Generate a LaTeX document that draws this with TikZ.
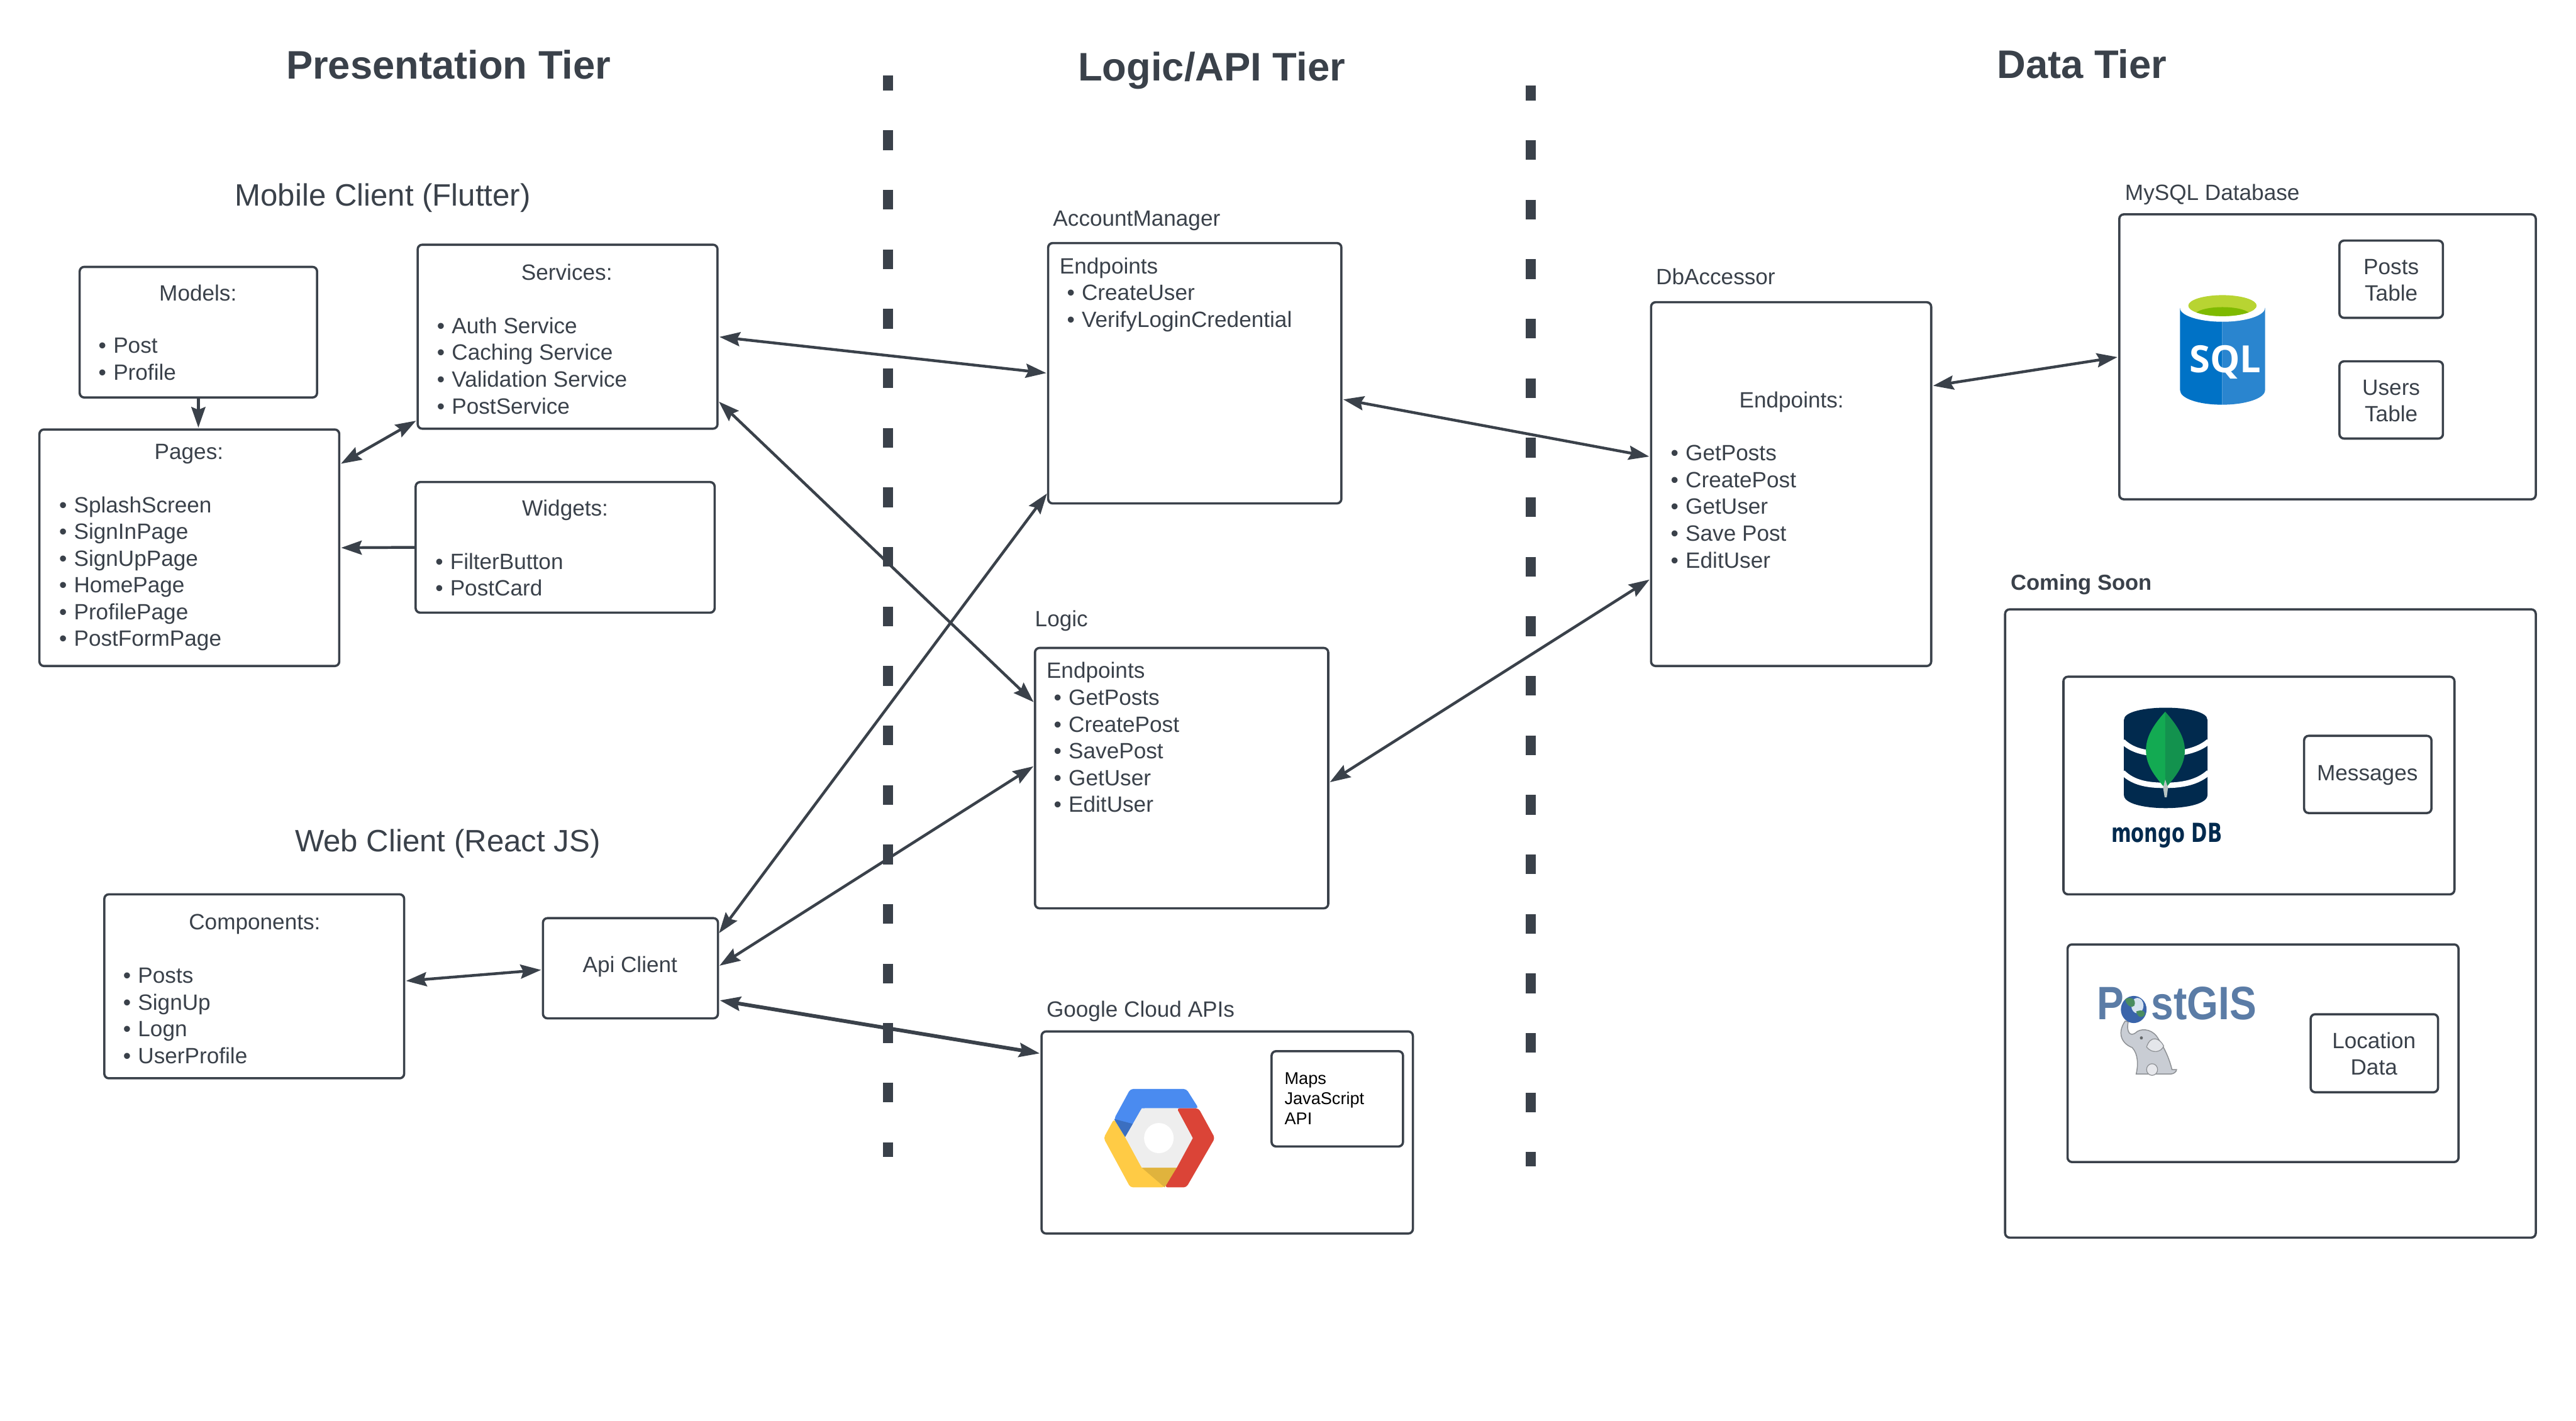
\documentclass[tikz,border=0pt]{standalone}
\usepackage{fontspec}
\setmainfont{Liberation Sans}
\usetikzlibrary{arrows.meta}
\definecolor{ink}{HTML}{3A414A}
\newcommand{\bl}{\strut\makebox[7.9pt][l]{•}}
\tikzset{
  wh/.style 2 args={minimum width=#1*0.030804cm, minimum height=#2*0.030804cm},
  box/.style={draw=ink, line width=1.2pt, rounded corners=2.4pt, inner sep=0pt, outer sep=0pt, fill=white},
  txt/.style={inner sep=0pt, outer sep=0pt, yshift=-1.6pt, text=ink, font=\fontsize{11.8}{14.28}\selectfont, align=left},
  ctxt/.style={txt, align=center},
  title/.style={inner sep=0pt, text=ink, font=\fontsize{21.25}{25}\selectfont\bfseries},
  subtitle/.style={inner sep=0pt, yshift=-1.6pt, text=ink, font=\fontsize{16.5}{20}\selectfont},
  link/.style={draw=ink, line width=1.5pt, {Stealth[length=11pt,width=7.5pt,inset=1.5pt]}-{Stealth[length=11pt,width=7.5pt,inset=1.5pt]}, shorten <=1pt, shorten >=1pt},
  onelink/.style={draw=ink, line width=1.5pt, -{Stealth[length=11pt,width=7.5pt,inset=1.5pt]}, shorten >=1pt},
  tierline/.style={draw=ink, line width=5.35pt, dash pattern=on 10.5pt off 21.27pt, dash phase=2.63pt},
  logo/.style={inner sep=0pt, outer sep=0pt}
}
\begin{document}
\begin{tikzpicture}[x=0.030804cm,y=-0.030804cm]
\useasboundingbox (0,0) rectangle (1568,864.8);
% tier separators
\coordinate (d1a) at (540.35,46.1);
\coordinate (d1b) at (540.35,704.2);
\coordinate (d2a) at (931.7,52.1);
\coordinate (d2b) at (931.7,710.2);
\draw[tierline] (d1a) -- (d1b);
\draw[tierline] (d2a) -- (d2b);
% titles
\node[title] (t1) at (273,39.5) {Presentation Tier};
\node[title] (t2) at (737.5,43) {Logic/API Tier};
\node[title] (t3) at (1267.3,39) {Data Tier};
\node[subtitle] (s1) at (233,118.5) {Mobile Client (Flutter)};
\node[subtitle] (s2) at (272.5,512) {Web Client (React JS)};
% boxes
\node[box,wh={144.5}{79.5}] (models) at (120.75,202.25) {};
\node[box,wh={182.5}{112}] (services) at (345.5,205) {};
\node[box,wh={182.5}{144}] (pages) at (115.25,333.5) {};
\node[box,wh={182}{79.5}] (widgets) at (344,333.25) {};
\node[box,wh={182.5}{112}] (components) at (154.75,600.5) {};
\node[box,wh={106.5}{61}] (api) at (383.75,589.5) {};
\node[box,wh={178.5}{158.5}] (account) at (727.25,227.25) {};
\node[box,wh={178.5}{158.5}] (logic) at (719.25,473.75) {};
\node[box,wh={226}{123}] (google) at (747,689.5) {};
\node[box,wh={80}{58}] (maps) at (814,669) {};
\node[box,wh={170.5}{221.5}] (db) at (1090.25,294.75) {};
\node[box,wh={253.5}{173.5}] (mysql) at (1416.75,217.25) {};
\node[box,wh={63}{47}] (posts) at (1455.5,170) {};
\node[box,wh={63}{47}] (users) at (1455.5,243.5) {};
\node[box,wh={323}{382.5}] (soon) at (1382,562.25) {};
\node[box,wh={238}{132.5}] (mongo) at (1375,478.25) {};
\node[box,wh={77.5}{47}] (messages) at (1441.25,471.5) {};
\node[box,wh={238}{132.5}] (gis) at (1377.5,641.25) {};
\node[box,wh={77.5}{47.5}] (location) at (1445.25,641.25) {};
% box texts
\node[ctxt] (modelsH) at (120.5,178) {\strut Models:};
\node[txt,anchor=north west] (modelsL) at (60,201.8) {\bl Post\\\bl Profile};
\node[ctxt] (servH) at (345,165.5) {\strut Services:};
\node[txt,anchor=north west] (servL) at (266,189.8) {\bl Auth Service\\\bl Caching Service\\\bl Validation Service\\\bl PostService};
\node[ctxt] (pagesH) at (115,274.5) {\strut Pages:};
\node[txt,anchor=north west] (pagesL) at (36,298.8) {\bl SplashScreen\\\bl SignInPage\\\bl SignUpPage\\\bl HomePage\\\bl ProfilePage\\\bl PostFormPage};
\node[ctxt] (widH) at (344,309) {\strut Widgets:};
\node[txt,anchor=north west] (widL) at (265,333.3) {\bl FilterButton\\\bl PostCard};
\node[ctxt] (compH) at (155,561) {\strut Components:};
\node[txt,anchor=north west] (compL) at (75,585.3) {\bl Posts\\\bl SignUp\\\bl Logn\\\bl UserProfile};
\node[ctxt] (apiT) at (383.5,587) {\strut Api Client};
\node[txt,anchor=north west] (accL) at (645,153.3) {\strut Endpoints\\\hspace*{3.9pt}\bl CreateUser\\\hspace*{3.9pt}\bl VerifyLoginCredential};
\node[txt,anchor=north west] (logL) at (637,399.8) {\strut Endpoints\\\hspace*{3.9pt}\bl GetPosts\\\hspace*{3.9pt}\bl CreatePost\\\hspace*{3.9pt}\bl SavePost\\\hspace*{3.9pt}\bl GetUser\\\hspace*{3.9pt}\bl EditUser};
\node[ctxt] (dbH) at (1090.5,243) {\strut Endpoints:};
\node[txt,anchor=north west] (dbL) at (1017,267.3) {\bl GetPosts\\\bl CreatePost\\\bl GetUser\\\bl Save Post\\\bl EditUser};
\node[ctxt] (postsT) at (1455.5,170) {\strut Posts\\\strut Table};
\node[ctxt] (usersT) at (1455.5,243.5) {\strut Users\\\strut Table};
\node[ctxt] (msgT) at (1441,470) {\strut Messages};
\node[ctxt] (locT) at (1445,641.25) {\strut Location\\\strut Data};
\node[inner sep=0pt, yshift=-1.4pt, align=left, anchor=north west, text=black, font=\fontsize{9.1}{10.6}\selectfont] (mapsT) at (781.7,650) {\strut Maps\\\strut JavaScript\\\strut API};
% labels
\node[txt,anchor=west] (l1) at (641,132.5) {\strut AccountManager};
\node[txt,anchor=west] (l2) at (630,376.5) {\strut Logic};
\node[txt,anchor=west] (l3) at (637,614) {\strut Google Cloud APIs};
\node[txt,anchor=west] (l4) at (1008,168) {\strut DbAccessor};
\node[txt,anchor=west] (l5) at (1293.5,117) {\strut MySQL Database};
\node[txt,anchor=west,font=\fontsize{11.6}{14.3}\selectfont\bfseries] (l6) at (1224,354) {\strut Coming Soon};
% connectors
\draw[onelink] (models.south) -- (models.south |- pages.north);
\draw[link] (pages.29.4) -- (services.209.6);
\draw[onelink] (widgets.west) -- (pages.east);
\draw[link] (services.east) -- (account.west);
\draw[link] (services.-23.1) -- (logic.153.4);
\draw[link] (account.-10.6) -- (db.169.5);
\draw[link] (logic.-2.1) -- (db.214.8);
\draw[link] (db.35.5) -- (mysql.west);
\draw[link] (api.21.05) -- (account.219.95);
\draw[link] (api.1.6) -- (logic.175.7);
\draw[link,line width=2pt] (api.-20.1) -- (google.157.2);
\draw[link] (components.2.8) -- (api.181.6);
% SQL logo
\fill[fill={rgb,255:red,0;green,114;blue,198}] (1327,187.4) -- (1352.6,187.4) -- (1352.6,246.4) .. controls (1338,246.4) and (1327,242.5) .. (1327,237.6) -- cycle;
\fill[fill={rgb,255:red,42;green,133;blue,207}] (1352.6,187.4) -- (1378.7,187.4) -- (1378.7,237.6) .. controls (1378.7,242.5) and (1367,246.4) .. (1352.6,246.4) -- cycle;
\fill[white] (1352.8,187.4) ellipse [x radius=25.9, y radius=8.5];
\begin{scope}
\clip (1352.8,186.1) ellipse [x radius=20.8, y radius=6.4];
\fill[fill={rgb,255:red,184;green,212;blue,50}] (1352.8,186.1) ellipse [x radius=20.8, y radius=6.4];
\fill[fill={rgb,255:red,127;green,186;blue,0}] (1352.8,192) ellipse [x radius=17, y radius=5];
\end{scope}
\node[logo,text=white,font=\fontsize{20}{22}\selectfont\bfseries] (sqlT) at (1354.5,220.5) {\fontspec{Open Sans}SQL};
% MongoDB logo
\begin{scope}[shift={(1233.6,405.8)},x=0.005739cm,y=-0.00606cm]
\definecolor{mongoblue}{HTML}{012A4E}
\fill[mongoblue] (318,165) .. controls (318,115) and (591,115) .. (591,165) -- (591,398) .. controls (591,452) and (318,452) .. (318,398) -- cycle;
\draw[white,line width=2.9pt] (314,232) .. controls (350,265) and (400,270) .. (453,270) .. controls (510,270) and (560,260) .. (595,232);
\draw[white,line width=2.9pt] (314,328) .. controls (350,362) and (400,368) .. (453,368) .. controls (510,368) and (560,358) .. (595,328);
\fill[fill={rgb,255:red,19;green,170;blue,82}] (453,140) .. controls (405,190) and (390,225) .. (390,260) .. controls (390,310) and (425,345) .. (453,378) -- cycle;
\fill[fill={rgb,255:red,19;green,146;blue,78}] (453,140) .. controls (500,190) and (517,225) .. (517,260) .. controls (517,310) and (482,345) .. (453,378) -- cycle;
\fill[fill={rgb,255:red,184;green,196;blue,194}] (453,350) -- (462,375) -- (458,405) -- (451,405) -- (446,375) -- cycle;
\node[logo,text=mongoblue,font=\fontsize{14}{16}\selectfont\bfseries] (mongoT) at (458,524) {\fontspec{DejaVu Sans}\scalebox{0.73}[1]{mongo DB}};
\end{scope}
% PostGIS logo
\begin{scope}[shift={(1233.6,405.8)},x=0.005739cm,y=-0.00606cm]
\definecolor{gisblue}{HTML}{5B7CA6}
\node[logo,text=gisblue,anchor=west,font=\fontsize{25}{27}\selectfont\bfseries] (gisP) at (231,1043) {\scalebox{0.86}[1]{P}};
\node[logo,text=gisblue,anchor=west,font=\fontsize{25}{27}\selectfont\bfseries] (gisS) at (408,1043) {\scalebox{0.86}[1]{stGIS}};
% elephant
\definecolor{ele}{HTML}{C9CDD4}
\draw[ele!70!black,line width=0.5pt,fill=ele] (322,1098) .. controls (298,1130) and (305,1165) .. (345,1180) .. controls (365,1200) and (365,1235) .. (358,1262) -- (470,1262) .. controls (480,1262) and (490,1255) .. (490,1248) -- (475,1248) .. controls (465,1210) and (450,1180) .. (425,1145) .. controls (405,1120) and (370,1120) .. (355,1135) .. controls (340,1145) and (325,1135) .. (332,1100) -- cycle;
\draw[ele!70!black,line width=0.4pt,fill=ele!50!white] (392,1178) .. controls (405,1140) and (435,1150) .. (448,1175) .. controls (440,1195) and (410,1200) .. (392,1178) -- cycle;
\draw[ele!70!black,line width=0.4pt,fill=ele!45!white] (410,1248) ellipse [x radius=18, y radius=18];
\fill[ele!50!black] (375,1150) circle [radius=5];
% globe
\fill[fill={rgb,255:red,58;green,100;blue,170}] (350,1062) ellipse [x radius=42, y radius=42];
\fill[fill={rgb,255:red,214;green,226;blue,240}] (362,1050) ellipse [x radius=20, y radius=24];
\fill[fill={rgb,255:red,74;green,140;blue,96}] (322,1030) .. controls (340,1020) and (360,1030) .. (352,1050) .. controls (345,1060) and (325,1050) .. (322,1030) -- cycle;
\fill[fill={rgb,255:red,74;green,140;blue,96}] (358,1068) .. controls (375,1062) and (390,1065) .. (385,1080) .. controls (375,1090) and (362,1085) .. (358,1068) -- cycle;
\end{scope}
% Google Cloud logo
\begin{scope}[shift={(633,616.8)},x=0.004783cm,y=-0.003333cm]
\definecolor{gblue}{HTML}{4A8BF0}
\definecolor{gred}{HTML}{DB4437}
\definecolor{gyel}{HTML}{FFCB45}
\fill[gyel,rounded corners=1.5pt] (291,597) -- (250,705) -- (355,983) -- (490,983) -- (537,872) -- (400,872) -- (335,700) -- cycle;
\fill[gblue,rounded corners=1.5pt] (355,428) -- (575,428) -- (623,537) -- (400,537) -- (335,700) -- (291,597) -- cycle;
\fill[gred,rounded corners=1.5pt] (623,537) -- (687,705) -- (575,983) -- (490,983) -- (600,705) -- (537,537) -- cycle;
\fill[gyel!88!black] (400,872) -- (537,872) -- (490,983) -- cycle;
\fill[gblue!80!black] (291,597) -- (335,700) -- (365,625) -- cycle;
\fill[fill={rgb,255:red,238;green,238;blue,238}] (400,537) -- (537,537) -- (600,705) -- (537,872) -- (400,872) -- (335,700) -- cycle;
\fill[white] (467,705) ellipse [x radius=58, y radius=85];
\end{scope}
\end{tikzpicture}
\end{document}
